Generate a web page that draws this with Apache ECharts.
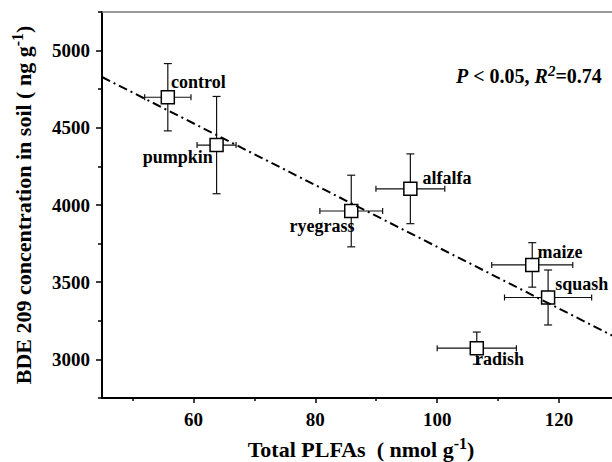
<!DOCTYPE html>
<html>
<head>
<meta charset="utf-8">
<script src="https://cdn.jsdelivr.net/npm/echarts@6/dist/echarts.min.js"></script>
<style>
  html, body { margin: 0; padding: 0; background: #fff; }
  #main { width: 612px; height: 462px; }
</style>
</head>
<body>
<div id="main"></div>
<script>
// treatments
var names = ['control', 'pumpkin', 'ryegrass', 'alfalfa', 'maize', 'squash', 'radish'];
// Total PLFAs (nmol g-1) and its error
var plfa = [55.8, 63.8, 85.9, 95.6, 115.6, 118.2, 106.5];
var plfaErr = [3.8, 3.2, 5.15, 5.65, 6.65, 7.15, 6.5];
// BDE 209 (ng g-1) and its error
var bde = [4698, 4388, 3961, 4105, 3612, 3401, 3073];
var bdeErr = [218, 315, 232, 226, 144, 178, 104];
// fitted line end points
var fitX = [45, 130];
var fitY = [4829, 3129];
// ticks
var xMajor = [60, 80, 100, 120];
var xMinor = [50, 70, 90, 110, 130];
var yMajor = [3000, 3500, 4000, 4500, 5000];
var yMinor = [2750, 3250, 3750, 4250, 4750, 5250];

// label placement (px from point centre): [dx, dy, align]
var labelOffsets = {
    control: [4, -14, 'left'],
    pumpkin: [-3, 13, 'right'],
    ryegrass: [4, 16, 'right'],
    alfalfa: [13, -10, 'left'],
    maize: [6, -12, 'left'],
    squash: [8, -13, 'left'],
    radish: [-1, 12, 'left']
};

var FONT = '"Liberation Serif", "Times New Roman", serif';
var symSize = 13;

var pts = [];
var bars = [];
for (var i = 0; i < names.length; i++) {
    var off = labelOffsets[names[i]];
    pts.push({
        name: names[i],
        value: [plfa[i], bde[i]],
        label: {
            position: [symSize / 2 + off[0], symSize / 2 + off[1]],
            align: off[2],
            verticalAlign: 'middle'
        }
    });
    bars.push([plfa[i], bde[i], plfaErr[i], bdeErr[i]]);
}

var myChart = echarts.init(document.getElementById('main'), null, { renderer: 'svg' });

var option = {
    animation: false,
    backgroundColor: '#fff',
    textStyle: { fontFamily: FONT },
    title: {
        text: '{i|P}{b| < 0.05, }{i|R}{s|2}{b|=0.74}',
        left: 451,
        top: 58,
        textStyle: {
            rich: {
                i: { fontFamily: FONT, fontSize: 20, fontWeight: 'bold', fontStyle: 'italic', color: '#000' },
                b: { fontFamily: FONT, fontSize: 20, fontWeight: 'bold', color: '#000' },
                s: { fontFamily: FONT, fontSize: 15, fontWeight: 'bold', fontStyle: 'italic', color: '#000', padding: [0, 0, 11, 0] }
            }
        }
    },
    grid: {
        left: 102,
        top: 12,
        right: -8,
        bottom: 64,
        outerBoundsMode: 'none',
        containLabel: false
    },
    xAxis: [
        {
            type: 'value',
            min: 45,
            max: 130,
            position: 'bottom',
            name: '{a|Total PLFAs  ( nmol g}{s|-1}{a|)}',
            nameLocation: 'middle',
            nameGap: 37,
            nameTextStyle: {
                rich: {
                    a: { fontFamily: FONT, fontSize: 22, fontWeight: 'bold', color: '#000' },
                    s: { fontFamily: FONT, fontSize: 16, fontWeight: 'bold', color: '#000', padding: [0, 0, 13, 0] }
                }
            },
            splitLine: { show: false },
            axisLine: { lineStyle: { color: '#000', width: 2 } },
            axisTick: { customValues: xMajor, length: 5, lineStyle: { color: '#000', width: 1.5 } },
            axisLabel: {
                customValues: xMajor,
                margin: 12,
                fontFamily: FONT,
                fontSize: 19,
                fontWeight: 'bold',
                color: '#000'
            }
        },
        {
            type: 'value',
            min: 45,
            max: 130,
            position: 'bottom',
            splitLine: { show: false },
            axisLine: { show: false },
            axisTick: { customValues: xMinor, length: 3, lineStyle: { color: '#000', width: 1.5 } },
            axisLabel: { show: false }
        },
        {
            type: 'value',
            min: 45,
            max: 130,
            position: 'top',
            splitLine: { show: false },
            axisLine: { lineStyle: { color: '#777', width: 1.5 } },
            axisTick: { show: false },
            axisLabel: { show: false }
        }
    ],
    yAxis: [
        {
            type: 'value',
            min: 2750,
            max: 5250,
            name: '{a|BDE 209 concentration in soil ( ng g}{s|-1}{a|)}',
            nameLocation: 'middle',
            nameGap: 64,
            nameTextStyle: {
                rich: {
                    a: { fontFamily: FONT, fontSize: 22, fontWeight: 'bold', color: '#000' },
                    s: { fontFamily: FONT, fontSize: 16, fontWeight: 'bold', color: '#000', padding: [0, 0, 13, 0] }
                }
            },
            splitLine: { show: false },
            axisLine: { lineStyle: { color: '#000', width: 2 } },
            axisTick: { customValues: yMajor, length: 6, lineStyle: { color: '#000', width: 1.5 } },
            axisLabel: {
                customValues: yMajor,
                margin: 12,
                fontFamily: FONT,
                fontSize: 19,
                fontWeight: 'bold',
                color: '#000',
                formatter: function (v) { return String(v); }
            }
        },
        {
            type: 'value',
            min: 2750,
            max: 5250,
            position: 'left',
            splitLine: { show: false },
            axisLine: { show: false },
            axisTick: { customValues: yMinor, length: 4, lineStyle: { color: '#000', width: 1.5 } },
            axisLabel: { show: false }
        }
    ],
    series: [
        {
            // error bars
            type: 'custom',
            z: 1,
            data: bars,
            renderItem: function (params, api) {
                var x = api.value(0), y = api.value(1);
                var ex = api.value(2), ey = api.value(3);
                var c = api.coord([x, y]);
                var l = api.coord([x - ex, y]);
                var r = api.coord([x + ex, y]);
                var t = api.coord([x, y + ey]);
                var b = api.coord([x, y - ey]);
                var st = { stroke: '#111', lineWidth: 1.2, fill: null };
                var hc = 3, vc = 4;
                return {
                    type: 'group',
                    children: [
                        { type: 'line', shape: { x1: l[0], y1: c[1], x2: r[0], y2: c[1] }, style: st },
                        { type: 'line', shape: { x1: l[0], y1: c[1] - hc, x2: l[0], y2: c[1] + hc }, style: st },
                        { type: 'line', shape: { x1: r[0], y1: c[1] - hc, x2: r[0], y2: c[1] + hc }, style: st },
                        { type: 'line', shape: { x1: c[0], y1: t[1], x2: c[0], y2: b[1] }, style: st },
                        { type: 'line', shape: { x1: c[0] - vc, y1: t[1], x2: c[0] + vc, y2: t[1] }, style: st },
                        { type: 'line', shape: { x1: c[0] - vc, y1: b[1], x2: c[0] + vc, y2: b[1] }, style: st }
                    ]
                };
            }
        },
        {
            type: 'scatter',
            z: 2,
            symbol: 'rect',
            symbolSize: symSize,
            itemStyle: { color: '#fff', borderColor: '#000', borderWidth: 1.5, opacity: 1 },
            label: {
                show: true,
                formatter: '{b}',
                fontFamily: FONT,
                fontSize: 18,
                fontWeight: 'bold',
                color: '#000'
            },
            emphasis: { disabled: true },
            data: pts
        },
        {
            // linear fit
            type: 'line',
            z: 3,
            symbol: 'none',
            silent: true,
            lineStyle: { color: '#000', width: 2, type: [9, 4, 2, 4] },
            data: [[fitX[0], fitY[0]], [fitX[1], fitY[1]]]
        }
    ]
};
myChart.setOption(option);
</script>
</body>
</html>
